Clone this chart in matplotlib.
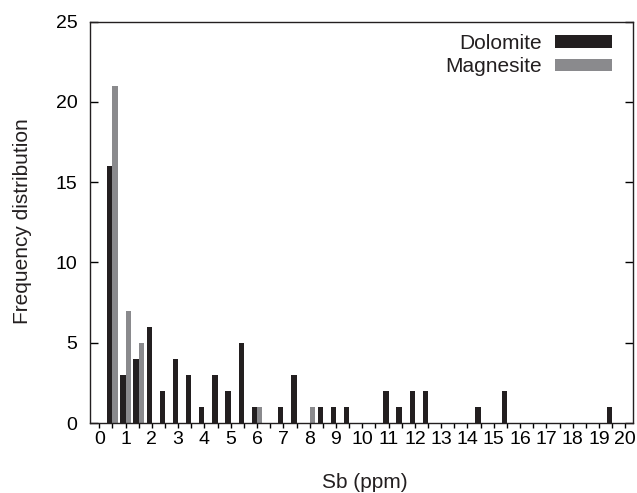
import matplotlib
matplotlib.use("Agg")
import matplotlib.pyplot as plt

plt.rcParams['font.family'] = ['Liberation Sans', 'DejaVu Sans']

# Bin centres (Sb, ppm) and counts
dolomite_bins = [0.5, 1.0, 1.5, 2.0, 2.5, 3.0, 3.5, 4.0, 4.5, 5.0, 5.5, 6.0,
                 7.0, 7.5, 8.5, 9.0, 9.5, 11.0, 11.5, 12.0, 12.5, 14.5, 15.5, 19.5]
dolomite_counts = [16, 3, 4, 6, 2, 4, 3, 1, 3, 2, 5, 1,
                   1, 3, 1, 1, 1, 2, 1, 2, 2, 1, 2, 1]
magnesite_bins = [0.5, 1.0, 1.5, 6.0, 8.0]
magnesite_counts = [21, 7, 5, 1, 1]

x_tick_values = list(range(0, 21))
x_minor_values = [v + 0.5 for v in range(0, 20)]
y_tick_values = [0, 5, 10, 15, 20, 25]

dolo_color = '#231f20'
magn_color = '#8a8a8d'
bar_w = 0.2

fig = plt.figure(figsize=(6.37, 4.93), dpi=100)
ax = fig.add_axes([90/637, 70/493, (632.7-90)/637, (423-21.7)/493])

ax.bar([b - bar_w for b in dolomite_bins], dolomite_counts, width=bar_w,
       align='edge', color=dolo_color, label='Dolomite', linewidth=0)
ax.bar(magnesite_bins, magnesite_counts, width=bar_w,
       align='edge', color=magn_color, label='Magnesite', linewidth=0)

ax.set_xlim(-0.35, 20.28)
ax.set_ylim(0, 25)

ax.set_xticks(x_tick_values)
ax.set_xticklabels([str(v) for v in x_tick_values])
ax.set_xticks(x_minor_values, minor=True)
ax.tick_params(axis='x', which='both', direction='out', length=3.5, width=1,
               top=False, labelsize=14, pad=2)
ax.set_yticks(y_tick_values)
ax.tick_params(axis='y', which='both', direction='in', length=6, width=1,
               left=True, right=True, labelsize=14, pad=9)

for s in ax.spines.values():
    s.set_linewidth(1.0)
    s.set_color('#231f20')

fig.text(364.5/637, (493-482)/493, 'Sb (ppm)', fontsize=15,
         ha='center', va='center', color='#231f20')
fig.text(23/637, (493-221.5)/493, 'Frequency distribution', fontsize=15,
         ha='center', va='center', rotation=90, color='#231f20')

leg = ax.legend(loc='upper right', bbox_to_anchor=(0.969, 0.98), frameon=False,
                markerfirst=False, fontsize=15, handlelength=2.73,
                handleheight=0.56, handletextpad=0.64, labelspacing=0.22,
                borderpad=0.2, borderaxespad=0)
for t in leg.get_texts():
    t.set_color('#231f20')

fig.savefig('out.png', dpi=100)
